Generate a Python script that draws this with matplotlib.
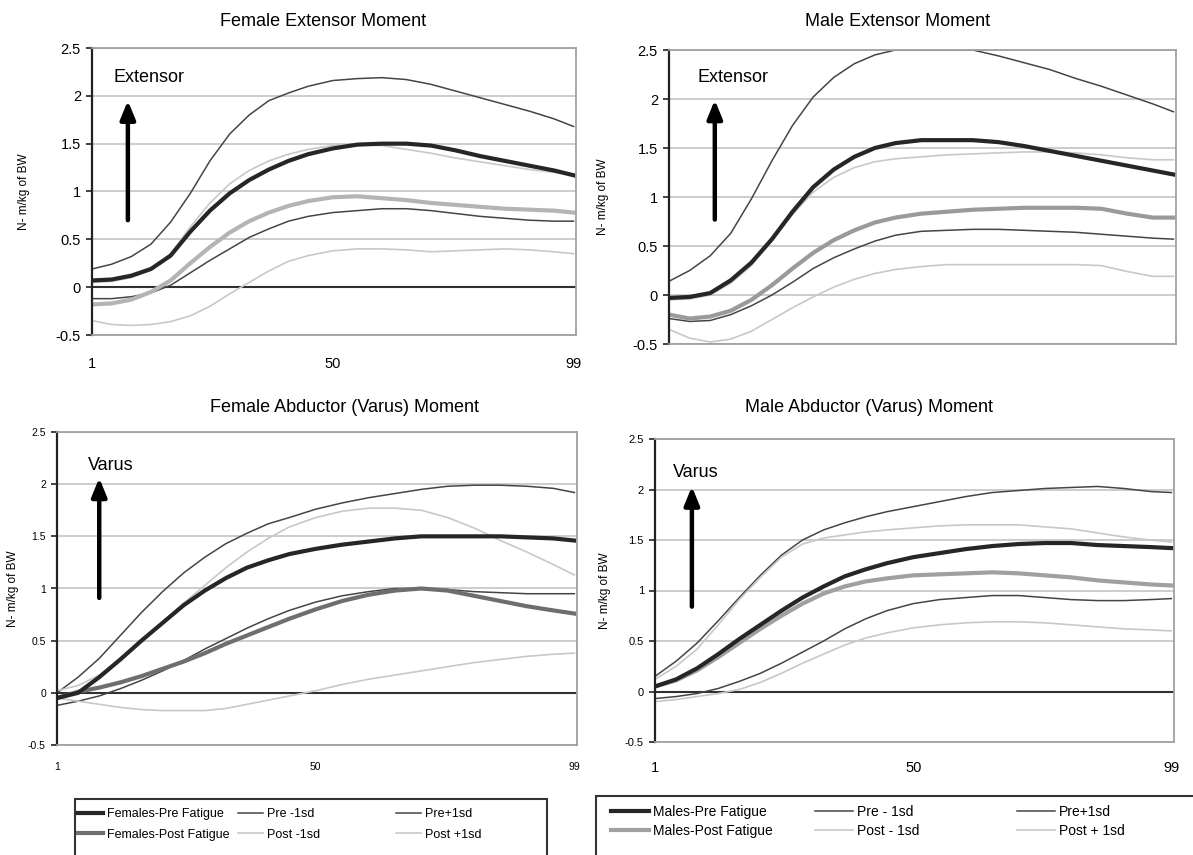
import matplotlib.pyplot as plt
from matplotlib.patches import Rectangle

plt.rcParams['font.family'] = ['Liberation Sans', 'DejaVu Sans']
plt.rcParams['axes.unicode_minus'] = False

# % of stance (sample points)
x = [1, 5, 9, 13, 17, 21, 25, 29, 33, 37, 41, 45, 50, 55, 60, 65, 70, 75, 80, 85, 90, 95, 99]

# Female extensor moment
fe_pre = [0.07, 0.08, 0.12, 0.19, 0.33, 0.58, 0.80, 0.98, 1.12, 1.23, 1.32, 1.39, 1.45, 1.49, 1.50, 1.50, 1.48, 1.43, 1.37, 1.32, 1.27, 1.22, 1.17]
fe_pre_lo = [-0.12, -0.12, -0.10, -0.06, 0.02, 0.15, 0.28, 0.40, 0.52, 0.61, 0.69, 0.74, 0.78, 0.80, 0.82, 0.82, 0.80, 0.77, 0.74, 0.72, 0.70, 0.69, 0.69]
fe_pre_hi = [0.19, 0.24, 0.32, 0.45, 0.68, 0.98, 1.32, 1.60, 1.80, 1.95, 2.03, 2.10, 2.16, 2.18, 2.19, 2.17, 2.12, 2.05, 1.98, 1.91, 1.84, 1.76, 1.68]
fe_post = [-0.18, -0.17, -0.13, -0.05, 0.07, 0.25, 0.42, 0.57, 0.69, 0.78, 0.85, 0.90, 0.94, 0.95, 0.93, 0.91, 0.88, 0.86, 0.84, 0.82, 0.81, 0.80, 0.78]
fe_post_lo = [-0.35, -0.39, -0.40, -0.39, -0.36, -0.30, -0.20, -0.07, 0.05, 0.17, 0.27, 0.33, 0.38, 0.40, 0.40, 0.39, 0.37, 0.38, 0.39, 0.40, 0.39, 0.37, 0.35]
fe_post_hi = [0.05, 0.06, 0.10, 0.18, 0.35, 0.63, 0.88, 1.08, 1.22, 1.32, 1.39, 1.44, 1.48, 1.49, 1.48, 1.44, 1.40, 1.35, 1.31, 1.27, 1.23, 1.20, 1.17]

# Male extensor moment
me_pre = [-0.03, -0.02, 0.02, 0.15, 0.33, 0.57, 0.85, 1.10, 1.28, 1.41, 1.50, 1.55, 1.58, 1.58, 1.58, 1.56, 1.52, 1.47, 1.42, 1.37, 1.32, 1.27, 1.23]
me_pre_lo = [-0.24, -0.27, -0.26, -0.20, -0.11, 0.00, 0.13, 0.27, 0.38, 0.47, 0.55, 0.61, 0.65, 0.66, 0.67, 0.67, 0.66, 0.65, 0.64, 0.62, 0.60, 0.58, 0.57]
me_pre_hi = [0.14, 0.25, 0.40, 0.63, 0.98, 1.37, 1.73, 2.02, 2.22, 2.36, 2.45, 2.50, 2.50, 2.50, 2.50, 2.44, 2.37, 2.30, 2.21, 2.13, 2.04, 1.95, 1.87]
me_post = [-0.20, -0.24, -0.22, -0.16, -0.05, 0.10, 0.27, 0.43, 0.56, 0.66, 0.74, 0.79, 0.83, 0.85, 0.87, 0.88, 0.89, 0.89, 0.89, 0.88, 0.83, 0.79, 0.79]
me_post_lo = [-0.35, -0.44, -0.48, -0.45, -0.37, -0.25, -0.13, -0.02, 0.08, 0.16, 0.22, 0.26, 0.29, 0.31, 0.31, 0.31, 0.31, 0.31, 0.31, 0.30, 0.24, 0.19, 0.19]
me_post_hi = [-0.05, -0.04, 0.00, 0.12, 0.30, 0.55, 0.82, 1.05, 1.20, 1.30, 1.36, 1.39, 1.41, 1.43, 1.44, 1.45, 1.46, 1.46, 1.45, 1.43, 1.40, 1.38, 1.38]

# Female abductor (varus) moment
fa_pre = [-0.05, 0.00, 0.15, 0.32, 0.50, 0.67, 0.84, 0.98, 1.10, 1.20, 1.27, 1.33, 1.38, 1.42, 1.45, 1.48, 1.50, 1.50, 1.50, 1.50, 1.49, 1.48, 1.46]
fa_pre_lo = [-0.12, -0.08, -0.03, 0.04, 0.12, 0.21, 0.31, 0.42, 0.52, 0.62, 0.71, 0.79, 0.87, 0.93, 0.97, 1.00, 1.00, 0.99, 0.97, 0.96, 0.95, 0.95, 0.95]
fa_pre_hi = [0.00, 0.15, 0.33, 0.55, 0.77, 0.97, 1.15, 1.30, 1.43, 1.53, 1.62, 1.68, 1.76, 1.82, 1.87, 1.91, 1.95, 1.98, 1.99, 1.99, 1.98, 1.96, 1.92]
fa_post = [-0.05, 0.01, 0.05, 0.10, 0.16, 0.23, 0.30, 0.38, 0.47, 0.55, 0.63, 0.71, 0.80, 0.88, 0.94, 0.98, 1.00, 0.98, 0.93, 0.88, 0.83, 0.79, 0.76]
fa_post_lo = [-0.05, -0.08, -0.11, -0.14, -0.16, -0.17, -0.17, -0.17, -0.15, -0.11, -0.07, -0.03, 0.02, 0.08, 0.13, 0.17, 0.21, 0.25, 0.29, 0.32, 0.35, 0.37, 0.38]
fa_post_hi = [0.02, 0.07, 0.17, 0.33, 0.50, 0.68, 0.86, 1.03, 1.20, 1.35, 1.48, 1.59, 1.68, 1.74, 1.77, 1.77, 1.75, 1.68, 1.58, 1.46, 1.35, 1.23, 1.13]

# Male abductor (varus) moment
ma_pre = [0.05, 0.12, 0.23, 0.37, 0.52, 0.66, 0.80, 0.93, 1.04, 1.14, 1.21, 1.27, 1.33, 1.37, 1.41, 1.44, 1.46, 1.47, 1.47, 1.45, 1.44, 1.43, 1.42]
ma_pre_lo = [-0.07, -0.05, -0.02, 0.03, 0.10, 0.18, 0.28, 0.39, 0.50, 0.62, 0.72, 0.80, 0.87, 0.91, 0.93, 0.95, 0.95, 0.93, 0.91, 0.90, 0.90, 0.91, 0.92]
ma_pre_hi = [0.15, 0.30, 0.48, 0.70, 0.93, 1.15, 1.35, 1.50, 1.60, 1.67, 1.73, 1.78, 1.83, 1.88, 1.93, 1.97, 1.99, 2.01, 2.02, 2.03, 2.01, 1.98, 1.97]
ma_post = [0.05, 0.11, 0.21, 0.34, 0.48, 0.62, 0.75, 0.87, 0.97, 1.04, 1.09, 1.12, 1.15, 1.16, 1.17, 1.18, 1.17, 1.15, 1.13, 1.10, 1.08, 1.06, 1.05]
ma_post_lo = [-0.10, -0.08, -0.05, -0.02, 0.02, 0.09, 0.18, 0.28, 0.37, 0.46, 0.53, 0.58, 0.63, 0.66, 0.68, 0.69, 0.69, 0.68, 0.66, 0.64, 0.62, 0.61, 0.60]
ma_post_hi = [0.12, 0.25, 0.42, 0.66, 0.91, 1.13, 1.33, 1.46, 1.52, 1.55, 1.58, 1.60, 1.62, 1.64, 1.65, 1.65, 1.65, 1.63, 1.61, 1.57, 1.53, 1.50, 1.48]

yticks = [-0.5, 0, 0.5, 1, 1.5, 2, 2.5]
ytick_labels = ['-0.5', '0', '0.5', '1', '1.5', '2', '2.5']
xticks = [1, 50, 99]
xtick_labels = ['1', '50', '99']

PRE_C = '#262626'
SD_DARK = '#454545'
SD_LIGHT = '#c8c8c8'

fig = plt.figure(figsize=(11.93, 8.55), dpi=100)


def panel(rect, series, post_color, title, title_xy, word, arrow, word_xy,
          zero_line=True, show_x=True, tick_fs=10.5, xtick_fs=10.5, xpad=14,
          ylab_x=-0.12):
    ax = fig.add_axes(rect)
    pre, pre_lo, pre_hi, post, post_lo, post_hi = series
    ax.plot(x, pre_lo, color=SD_DARK, lw=1.1, label='Pre -1sd')
    ax.plot(x, pre_hi, color=SD_DARK, lw=1.1, label='Pre+1sd')
    ax.plot(x, post_lo, color=SD_LIGHT, lw=1.2, label='Post -1sd')
    ax.plot(x, post_hi, color=SD_LIGHT, lw=1.2, label='Post +1sd')
    ax.plot(x, post, color=post_color, lw=3.0, label='Post Fatigue')
    ax.plot(x, pre, color=PRE_C, lw=3.0, label='Pre Fatigue')
    if zero_line:
        ax.axhline(0, color='#303030', lw=1.5, zorder=1.5)
    ax.set_xlim(1, 99.5)
    ax.set_ylim(-0.5, 2.5)
    ax.set_yticks(yticks)
    ax.set_yticklabels(ytick_labels)
    ax.yaxis.grid(True, color='#c4c4c4', lw=1.2)
    ax.set_axisbelow(True)
    if show_x:
        ax.set_xticks(xticks)
        ax.set_xticklabels(xtick_labels)
    else:
        ax.set_xticks([])
    ax.tick_params(axis='x', length=0, pad=xpad, labelsize=xtick_fs)
    ax.tick_params(axis='y', direction='out', length=4, width=1.2,
                   color='#222222', labelsize=tick_fs, pad=4)
    for s in ['top', 'right', 'bottom']:
        ax.spines[s].set_color('#a0a0a0')
        ax.spines[s].set_linewidth(1.3)
    ax.spines['left'].set_color('#222222')
    ax.spines['left'].set_linewidth(1.6)
    ax.set_ylabel('N- m/kg of BW', fontsize=8.5)
    ax.yaxis.set_label_coords(ylab_x, 0.5)
    fig.text(title_xy[0] / 1193, 1 - title_xy[1] / 855, title,
             ha='center', va='center', fontsize=13)
    ax.annotate('', xy=(arrow[0], arrow[2]), xytext=(arrow[0], arrow[1]),
                arrowprops=dict(arrowstyle='-|>,head_width=0.45,head_length=1.1',
                                lw=3.2, color='black', shrinkA=0, shrinkB=0))
    ax.text(word_xy[0], word_xy[1], word, fontsize=13, va='center', ha='left')
    return ax


ax1 = panel([92 / 1193, 1 - 335 / 855, 484 / 1193, 287 / 855],
            [fe_pre, fe_pre_lo, fe_pre_hi, fe_post, fe_post_lo, fe_post_hi],
            '#b4b4b4', 'Female Extensor Moment', (323, 22),
            'Extensor', (8.3, 0.70, 1.95), (5.3, 2.19), xpad=16, ylab_x=-0.128)

ax2 = panel([669 / 1193, 1 - 344 / 855, 507 / 1193, 294 / 855],
            [me_pre, me_pre_lo, me_pre_hi, me_post, me_post_lo, me_post_hi],
            '#9a9a9a', 'Male Extensor Moment', (898, 22),
            'Extensor', (9.9, 0.77, 1.99), (6.6, 2.22), zero_line=False,
            show_x=False, ylab_x=-0.118)

ax3 = panel([57 / 1193, 1 - 745 / 855, 520 / 1193, 313 / 855],
            [fa_pre, fa_pre_lo, fa_pre_hi, fa_post, fa_post_lo, fa_post_hi],
            '#6e6e6e', 'Female Abductor (Varus) Moment', (344, 407),
            'Varus', (9.0, 0.91, 2.06), (6.8, 2.18), tick_fs=7.5, xtick_fs=7.5,
            xpad=12, ylab_x=-0.073)

ax4 = panel([655 / 1193, 1 - 742 / 855, 519 / 1193, 303 / 855],
            [ma_pre, ma_pre_lo, ma_pre_hi, ma_post, ma_post_lo, ma_post_hi],
            '#a0a0a0', 'Male Abductor (Varus) Moment', (869, 407),
            'Varus', (8.0, 0.84, 2.03), (4.4, 2.17), tick_fs=8, xtick_fs=10.5,
            xpad=14, ylab_x=-0.085)


def legend_block(ax, names, cols, top, fs, hlen, lspace, box):
    lines = {l.get_label(): l for l in ax.get_lines()}
    order = [['Pre Fatigue', 'Post Fatigue'], ['Pre -1sd', 'Post -1sd'],
             ['Pre+1sd', 'Post +1sd']]
    for col_x, keys, labs in zip(cols, order, names):
        fig.legend([lines[k] for k in keys], labs, loc='upper left',
                   bbox_to_anchor=(col_x / 1193, 1 - top / 855),
                   frameon=False, fontsize=fs, handlelength=hlen,
                   handletextpad=0.3, labelspacing=lspace, borderpad=0,
                   borderaxespad=0)
    fig.patches.append(Rectangle((box[0] / 1193, 1 - box[3] / 855),
                                 (box[1] - box[0]) / 1193,
                                 (box[3] - box[2]) / 855,
                                 transform=fig.transFigure, fill=False,
                                 edgecolor='#333333', lw=1.5))


legend_block(ax3,
             [['Females-Pre Fatigue', 'Females-Post Fatigue'],
              ['Pre -1sd', 'Post -1sd'], ['Pre+1sd', 'Post +1sd']],
             [78, 238, 396], 808, 9, 2.0, 0.68, (75, 547, 799, 870))

legend_block(ax4,
             [['Males-Pre Fatigue', 'Males-Post Fatigue'],
              ['Pre - 1sd', 'Post - 1sd'], ['Pre+1sd', 'Post + 1sd']],
             [611, 815, 1017], 805, 10, 2.7, 0.37, (596, 1210, 796, 870))

fig.savefig('out.png', dpi=100)
